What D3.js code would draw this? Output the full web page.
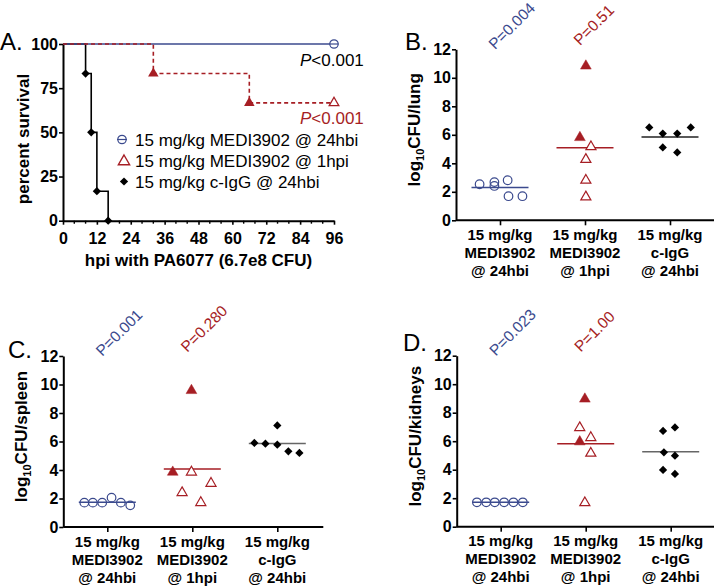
<!DOCTYPE html>
<html><head><meta charset="utf-8">
<script src="https://cdn.jsdelivr.net/npm/d3@7"></script>
<style>
body{margin:0;background:#fff}
text{font-family:"Liberation Sans",Arial,sans-serif;fill:#000}
</style>
</head><body>
<svg id="c" width="714" height="587" xmlns="http://www.w3.org/2000/svg"></svg>
<script>
const BLUE = "#3b4a8e", RED = "#a61e24";

// ---------- Panel A: survival ----------
const survXTicks = [0, 12, 24, 36, 48, 60, 72, 84, 96];
const survXMinor = [4, 8, 16, 20, 28, 32, 40, 44, 52, 56, 64, 68, 76, 80, 88, 92];
const survYTicks = [0, 25, 50, 75, 100];
const mediHbiTime = [0, 96];
const mediHbiSurv = [100, 100];
const mediHpiTime = [0, 32, 66, 96];
const mediHpiSurv = [100, 83.3, 66.7, 66.7];
const iggTime = [0, 8, 10, 12, 16];
const iggSurv = [100, 83.3, 50, 16.7, 0];
const legendLabels = ["15 mg/kg MEDI3902 @ 24hbi", "15 mg/kg MEDI3902 @ 1hpi", "15 mg/kg c-IgG @ 24hbi"];
const survPLabels = ["<0.001", "<0.001"];
const survXTitle = "hpi with PA6077 (6.7e8 CFU)";
const survYTitle = "percent survival";

// ---------- Panels B-D: CFU ----------
const categories = [["15 mg/kg", "MEDI3902", "@ 24hbi"], ["15 mg/kg", "MEDI3902", "@ 1hpi"], ["15 mg/kg", "c-IgG", "@ 24hbi"]];
const cfuYTicks = [0, 2, 4, 6, 8, 10, 12];
const organs = ["lung", "spleen", "kidneys"];
const panelLetters = ["B.", "C.", "D."];
const pBlue = ["P=0.004", "P=0.001", "P=0.023"];
const pRed = ["P=0.51", "P=0.280", "P=1.00"];

const lungBlue = [2.53, 2.68, 2.41, 2.81, 1.69, 1.69];
const lungBlueJit = [-0.24, -0.066, -0.066, 0.09, 0.10, 0.264];
const lungRed = [10.83, 5.81, 5.16, 4.27, 2.81, 1.64];
const lungRedFilled = [1, 1, 0, 0, 0, 0];
const lungRedJit = [0.01, -0.06, 0.07, 0.01, 0.01, 0.01];
const lungBlack = [6.52, 6.09, 6.09, 6.52, 5.11, 4.76];
const lungBlackJit = [-0.244, -0.085, 0.085, 0.244, -0.085, 0.085];

const spleenBlue = [1.71, 1.71, 1.71, 2.06, 1.71, 1.52];
const spleenBlueJit = [-0.27, -0.17, -0.06, 0.05, 0.16, 0.27];
const spleenRed = [9.58, 3.85, 3.85, 3.06, 2.41, 1.71];
const spleenRedFilled = [1, 1, 0, 0, 0, 0];
const spleenRedJit = [-0.01, -0.23, -0.01, 0.22, -0.12, 0.10];
const spleenBlack = [5.90, 5.85, 5.78, 7.13, 5.31, 5.20];
const spleenBlackJit = [-0.27, -0.14, 0, 0, 0.13, 0.26];

const kidneyBlue = [1.71, 1.71, 1.71, 1.71, 1.71, 1.71];
const kidneyBlueJit = [-0.28, -0.17, -0.07, 0.04, 0.15, 0.26];
const kidneyRed = [8.96, 5.96, 6.95, 6.25, 5.15, 1.68];
const kidneyRedFilled = [1, 1, 0, 0, 0, 0];
const kidneyRedJit = [-0.01, -0.07, -0.07, 0.06, 0.06, -0.01];
const kidneyBlack = [6.72, 6.97, 5.22, 4.98, 3.98, 3.70];
const kidneyBlackJit = [-0.09, 0.05, -0.08, 0.05, -0.09, 0.05];

const svg = d3.select("#c");

function styleAxis(g) {
  g.select(".domain").attr("stroke", "#000").attr("stroke-width", 2);
  g.selectAll(".tick line").attr("stroke", "#000").attr("stroke-width", 1.6);
  g.selectAll(".tick text").attr("font-family", "Liberation Sans, Arial, sans-serif")
    .attr("font-weight", "bold").attr("font-size", 16).attr("fill", "#000");
}
const diamond = d3.symbol(d3.symbolSquare, 34);
const triSym = d3.symbol(d3.symbolTriangle, 48);

// ================= Panel A =================
(function () {
  const x = d3.scaleLinear().domain([0, 96]).range([63, 334]);
  const y = d3.scaleLinear().domain([0, 100]).range([220.7, 44]);
  const g = svg.append("g");

  g.append("text").attr("x", 0).attr("y", 50).attr("font-family", "Open Sans, sans-serif")
    .attr("font-size", 24).text("A.");

  const xa = g.append("g").attr("transform", `translate(0,${y(0)})`)
    .call(d3.axisBottom(x).tickValues(survXTicks).tickSize(4).tickPadding(8).tickSizeOuter(0));
  styleAxis(xa);
  xa.selectAll(".minor").data(survXMinor).enter().append("line")
    .attr("x1", d => x(d)).attr("x2", d => x(d)).attr("y1", 0).attr("y2", 3)
    .attr("stroke", "#000").attr("stroke-width", 1.4);
  const ya = g.append("g").attr("transform", `translate(${x(0)},0)`)
    .call(d3.axisLeft(y).tickValues(survYTicks).tickSize(4).tickPadding(1).tickSizeOuter(0));
  styleAxis(ya);

  g.append("text").attr("x", (x(0) + x(96)) / 2).attr("y", 266).attr("text-anchor", "middle")
    .attr("font-weight", "bold").attr("font-size", 17).text(survXTitle);
  g.append("text").attr("transform", `translate(29,139) rotate(-90)`).attr("text-anchor", "middle")
    .attr("font-weight", "bold").attr("font-size", 17).text(survYTitle);

  const line = d3.line().x(d => x(d[0])).y(d => y(d[1])).curve(d3.curveStepAfter);
  const zip = (t, s) => t.map((v, i) => [v, s[i]]);

  const igg = zip(iggTime, iggSurv);
  g.append("path").attr("d", line(igg)).attr("fill", "none").attr("stroke", "#000").attr("stroke-width", 1.6);
  g.selectAll(".igg").data(igg.slice(1)).enter().append("path")
    .attr("d", diamond).attr("transform", d => `translate(${x(d[0])},${y(d[1])}) rotate(45)`).attr("fill", "#000");

  const m24 = zip(mediHbiTime, mediHbiSurv);
  g.append("path").attr("d", line(m24)).attr("fill", "none").attr("stroke", BLUE).attr("stroke-width", 1.6);
  const last24 = m24[m24.length - 1];
  g.append("circle").attr("cx", x(last24[0])).attr("cy", y(last24[1])).attr("r", 4.2)
    .attr("fill", "#fff").attr("stroke", BLUE).attr("stroke-width", 1.2);
  g.append("line").attr("x1", x(last24[0]) - 4.5).attr("x2", x(last24[0]) + 4.5)
    .attr("y1", y(last24[1])).attr("y2", y(last24[1])).attr("stroke", BLUE).attr("stroke-width", 1.2);

  const m1 = zip(mediHpiTime, mediHpiSurv);
  g.append("path").attr("d", line(m1)).attr("fill", "none").attr("stroke", RED).attr("stroke-width", 1.6)
    .attr("stroke-dasharray", "4,3");
  g.selectAll(".m1").data(m1.slice(1, -1)).enter().append("path")
    .attr("d", triSym).attr("transform", d => `translate(${x(d[0])},${y(d[1])})`).attr("fill", RED);
  const lastm1 = m1[m1.length - 1];
  g.append("path").attr("d", d3.symbol(d3.symbolTriangle, 40))
    .attr("transform", `translate(${x(lastm1[0])},${y(lastm1[1])})`)
    .attr("fill", "#fff").attr("stroke", RED).attr("stroke-width", 1.3);

  const pt1 = g.append("text").attr("x", 300).attr("y", 65.5).attr("font-size", 17);
  pt1.append("tspan").attr("font-style", "italic").text("P");
  pt1.append("tspan").text(survPLabels[0]);
  const pt2 = g.append("text").attr("x", 300).attr("y", 123.5).attr("font-size", 17).style("fill", RED);
  pt2.append("tspan").attr("font-style", "italic").style("fill", RED).text("P");
  pt2.append("tspan").style("fill", RED).text(survPLabels[1]);

  const ly = [139.5, 160.5, 181.5];
  const lg = g.append("g");
  lg.append("circle").attr("cx", 122).attr("cy", ly[0]).attr("r", 4.2).attr("fill", "#fff")
    .attr("stroke", BLUE).attr("stroke-width", 1.2);
  lg.append("line").attr("x1", 117).attr("x2", 127).attr("y1", ly[0]).attr("y2", ly[0])
    .attr("stroke", BLUE).attr("stroke-width", 1.2);
  lg.append("path").attr("d", d3.symbol(d3.symbolTriangle, 55)).attr("transform", `translate(124,${ly[1] + 1})`)
    .attr("fill", "#fff").attr("stroke", RED).attr("stroke-width", 1.4);
  lg.append("path").attr("d", diamond).attr("transform", `translate(124,${ly[2]}) rotate(45)`).attr("fill", "#000");
  legendLabels.forEach((t, i) => {
    lg.append("text").attr("x", 135).attr("y", ly[i] + 6).attr("font-size", 17).text(t);
  });
})();

// ================= Panels B-D =================
const panels = [
  { x0: 456, y0: 49.3, blue: lungBlue, blueJ: lungBlueJit, red: lungRed, redF: lungRedFilled, redJ: lungRedJit, black: lungBlack, blackJ: lungBlackJit, lx: 405, ly: 50 },
  { x0: 63.3, y0: 356, blue: spleenBlue, blueJ: spleenBlueJit, red: spleenRed, redF: spleenRedFilled, redJ: spleenRedJit, black: spleenBlack, blackJ: spleenBlackJit, lx: 8, ly: 358 },
  { x0: 456.7, y0: 355.7, blue: kidneyBlue, blueJ: kidneyBlueJit, red: kidneyRed, redF: kidneyRedFilled, redJ: kidneyRedJit, black: kidneyBlack, blackJ: kidneyBlackJit, lx: 403, ly: 351 }
];

panels.forEach((p, pi) => {
  const H = 171;
  const g = svg.append("g").attr("transform", `translate(${p.x0},${p.y0})`);
  const x = d3.scaleLinear().domain([0, 2]).range([44, 214]);
  const y = d3.scaleLinear().domain([0, 12]).range([H, 0]);

  svg.append("text").attr("x", p.lx).attr("y", p.ly).attr("font-family", "Open Sans, sans-serif")
    .attr("font-size", 24).text(panelLetters[pi]);

  const ya = g.append("g").call(d3.axisLeft(y).tickValues(cfuYTicks).tickSize(4).tickPadding(1).tickSizeOuter(0));
  styleAxis(ya);
  const xa = g.append("g").attr("transform", `translate(0,${H})`)
    .call(d3.axisBottom(x).tickValues([0, 1, 2]).tickFormat("").tickSize(5).tickSizeOuter(0));
  styleAxis(xa);
  xa.select(".domain").attr("d", "M0,0H260");

  categories.forEach((lines, ci) => {
    const t = g.append("text").attr("x", x(ci)).attr("y", H + 19.5).attr("text-anchor", "middle")
      .attr("font-weight", "bold").attr("font-size", 15);
    lines.forEach((l, li) => t.append("tspan").attr("x", x(ci)).attr("y", H + 19.5 + li * 18).text(l));
  });

  const yt = g.append("text").attr("transform", `translate(-36,${H / 2 - 5}) rotate(-90)`)
    .attr("text-anchor", "middle").attr("font-weight", "bold").attr("font-size", 17);
  yt.append("tspan").text("log");
  yt.append("tspan").attr("font-size", 11).attr("dy", 4).text("10");
  yt.append("tspan").attr("dy", -4).text("CFU/" + organs[pi]);

  // P labels rotated -45 degrees
  const pl = [
    { txt: pBlue[pi], col: BLUE, ci: 0, dx: -5, dy: 1 },
    { txt: pRed[pi], col: RED, ci: 1, dx: -5, dy: -3 }
  ];
  pl.forEach(o => {
    g.append("text")
      .attr("transform", `translate(${x(o.ci) + o.dx},${o.dy}) rotate(-45)`)
      .attr("font-family", "Open Sans, sans-serif").attr("font-size", 15.5)
      .style("fill", o.col).text(o.txt);
  });

  const halfW = 28.5;
  const meanLine = (vals, ci, col) => {
    const m = d3.mean(vals);
    g.append("line").attr("x1", x(ci) - halfW).attr("x2", x(ci) + halfW).attr("y1", y(m)).attr("y2", y(m))
      .attr("stroke", col).attr("stroke-width", 1.5);
  };

  meanLine(p.blue, 0, BLUE);
  g.selectAll(".b").data(p.blue).enter().append("circle")
    .attr("cx", (d, i) => x(0 + p.blueJ[i])).attr("cy", d => y(d)).attr("r", 4.3)
    .attr("fill", "none").attr("stroke", BLUE).attr("stroke-width", 1.2);

  meanLine(p.red, 1, RED);
  g.selectAll(".r").data(p.red).enter().append("path")
    .attr("d", (d, i) => p.redF[i] ? d3.symbol(d3.symbolTriangle, 50)() : d3.symbol(d3.symbolTriangle, 44)())
    .attr("transform", (d, i) => `translate(${x(1 + p.redJ[i])},${y(d)})`)
    .attr("fill", (d, i) => p.redF[i] ? RED : "#fff").attr("stroke", RED)
    .attr("stroke-width", (d, i) => p.redF[i] ? 0.5 : 1.2);

  meanLine(p.black, 2, pi === 0 ? "#222" : "#666");
  g.selectAll(".k").data(p.black).enter().append("path")
    .attr("d", diamond).attr("transform", (d, i) => `translate(${x(2 + p.blackJ[i])},${y(d)}) rotate(45)`)
    .attr("fill", "#000");
});
</script>
</body></html>
